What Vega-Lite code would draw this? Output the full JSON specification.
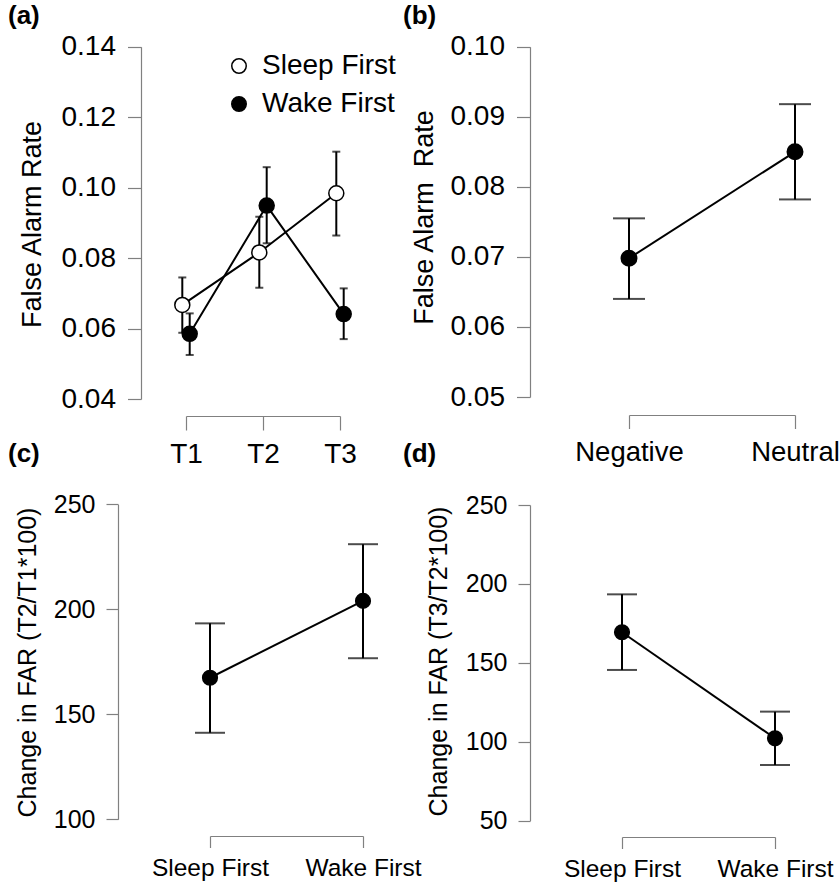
{
  "$schema": "https://vega.github.io/schema/vega-lite/v6.json",
  "padding": 0,
  "background": "white",
  "columns": 2,
  "spacing": 0,
  "bounds": "flush",
  "config": {
    "font": "Liberation Sans",
    "view": {"stroke": null},
    "axis": {
      "grid": false,
      "domainColor": "#808080",
      "tickColor": "#808080",
      "domainWidth": 1.2,
      "tickWidth": 1.2,
      "labelColor": "black",
      "titleColor": "black",
      "labelFont": "Liberation Sans",
      "titleFont": "Liberation Sans",
      "titleFontWeight": "normal",
      "labelOverlap": false,
      "labelFlush": false
    },
    "title": {"font": "Liberation Sans", "fontWeight": "bold", "fontSize": 26, "color": "black", "anchor": "start", "frame": "group", "baseline": "alphabetic"}
  },
  "concat": [
    {
      "width": 420,
      "height": 440,
      "title": {"text": "(a)", "dx": 8, "offset": -29},
      "data": {"values": [
        {"time": "T1", "group": "Sleep First", "far": 0.0667, "lo": 0.0588, "hi": 0.0745},
        {"time": "T2", "group": "Sleep First", "far": 0.0816, "lo": 0.0716, "hi": 0.0917},
        {"time": "T3", "group": "Sleep First", "far": 0.0984, "lo": 0.0864, "hi": 0.1102},
        {"time": "T1", "group": "Wake First", "far": 0.0585, "lo": 0.0525, "hi": 0.0643},
        {"time": "T2", "group": "Wake First", "far": 0.0949, "lo": 0.0842, "hi": 0.1058},
        {"time": "T3", "group": "Wake First", "far": 0.0641, "lo": 0.0570, "hi": 0.0714}
      ]},
      "layer": [
        {
          "mark": {"type": "rule", "color": "black", "strokeWidth": 2},
          "encoding": {
            "x": {"field": "time", "type": "nominal", "scale": {"type": "point", "range": [186, 340], "padding": 0},
                  "axis": {"title": null, "offset": -24, "labelFontSize": 28, "tickSize": 14, "labelPadding": 10, "labelAngle": 0}},
            "xOffset": {"field": "group", "type": "nominal", "scale": {"type": "point", "range": [-3.7, 3.7], "padding": 0}},
            "y": {"field": "lo", "type": "quantitative", "title": "False Alarm Rate",
                  "scale": {"domain": [0.04, 0.14], "range": [399, 46.7], "nice": false, "zero": false},
                  "axis": {"offset": -141, "values": [0.04, 0.06, 0.08, 0.1, 0.12, 0.14], "format": ".2f", "labelFontSize": 28, "tickSize": 13.5, "labelPadding": 12,
                           "titleFontSize": 27, "titleX": -101, "titleY": 224, "titleBaseline": "alphabetic", "titleAngle": -90, "titleAlign": "center"}},
            "y2": {"field": "hi"}
          }
        },
        {
          "mark": {"type": "tick", "color": "black", "size": 8, "thickness": 2},
          "encoding": {
            "x": {"field": "time", "type": "nominal", "scale": {"type": "point", "range": [186, 340], "padding": 0}},
            "xOffset": {"field": "group", "type": "nominal", "scale": {"type": "point", "range": [-3.7, 3.7], "padding": 0}},
            "y": {"field": "hi", "type": "quantitative", "title": "False Alarm Rate", "scale": {"domain": [0.04, 0.14], "range": [399, 46.7], "nice": false, "zero": false}}
          }
        },
        {
          "mark": {"type": "tick", "color": "black", "size": 8, "thickness": 2},
          "encoding": {
            "x": {"field": "time", "type": "nominal", "scale": {"type": "point", "range": [186, 340], "padding": 0}},
            "xOffset": {"field": "group", "type": "nominal", "scale": {"type": "point", "range": [-3.7, 3.7], "padding": 0}},
            "y": {"field": "lo", "type": "quantitative", "title": "False Alarm Rate", "scale": {"domain": [0.04, 0.14], "range": [399, 46.7], "nice": false, "zero": false}}
          }
        },
        {
          "mark": {"type": "line", "color": "black", "strokeWidth": 2},
          "encoding": {
            "x": {"field": "time", "type": "nominal", "scale": {"type": "point", "range": [186, 340], "padding": 0}},
            "xOffset": {"field": "group", "type": "nominal", "scale": {"type": "point", "range": [-3.7, 3.7], "padding": 0}},
            "y": {"field": "far", "type": "quantitative", "title": "False Alarm Rate", "scale": {"domain": [0.04, 0.14], "range": [399, 46.7], "nice": false, "zero": false}},
            "detail": {"field": "group", "type": "nominal"}
          }
        },
        {
          "mark": {"type": "point", "shape": "circle", "filled": true, "size": 225, "stroke": "black", "strokeWidth": 1.5, "opacity": 1},
          "encoding": {
            "x": {"field": "time", "type": "nominal", "scale": {"type": "point", "range": [186, 340], "padding": 0}},
            "xOffset": {"field": "group", "type": "nominal", "scale": {"type": "point", "range": [-3.7, 3.7], "padding": 0}},
            "y": {"field": "far", "type": "quantitative", "title": "False Alarm Rate", "scale": {"domain": [0.04, 0.14], "range": [399, 46.7], "nice": false, "zero": false}},
            "fill": {"field": "group", "type": "nominal", "scale": {"domain": ["Sleep First", "Wake First"], "range": ["white", "black"]},
                     "legend": {"orient": "none", "legendX": 225, "legendY": 52, "title": null, "padding": 0, "labelFontSize": 28, "labelFont": "Liberation Sans", "labelColor": "black",
                                "symbolType": "circle", "symbolSize": 210, "symbolStrokeColor": "black", "symbolStrokeWidth": 1.5, "labelOffset": 9, "rowPadding": 10}}
          }
        }
      ]
    },
    {
      "width": 420,
      "height": 440,
      "title": {"text": "(b)", "dx": -17, "offset": -29},
      "data": {"values": [
        {"valence": "Negative", "far": 0.0698, "lo": 0.0640, "hi": 0.0755},
        {"valence": "Neutral", "far": 0.0850, "lo": 0.0782, "hi": 0.0918}
      ]},
      "layer": [
        {
          "mark": {"type": "rule", "color": "black", "strokeWidth": 2},
          "encoding": {
            "x": {"field": "valence", "type": "nominal", "scale": {"type": "point", "range": [209, 375], "padding": 0},
                  "axis": {"title": null, "offset": -25, "labelFontSize": 27.5, "tickSize": 13.5, "labelPadding": 10, "labelAngle": 0}},
            "y": {"field": "lo", "type": "quantitative", "title": "False Alarm\u00a0 Rate",
                  "scale": {"domain": [0.05, 0.10], "range": [397, 46.7], "nice": false, "zero": false},
                  "axis": {"offset": -110, "values": [0.05, 0.06, 0.07, 0.08, 0.09, 0.10], "format": ".2f", "labelFontSize": 28, "tickSize": 13.5, "labelPadding": 12,
                           "titleFontSize": 27, "titleX": -98, "titleY": 217, "titleBaseline": "alphabetic", "titleAngle": -90, "titleAlign": "center"}},
            "y2": {"field": "hi"}
          }
        },
        {
          "mark": {"type": "tick", "color": "black", "size": 32, "thickness": 2},
          "encoding": {
            "x": {"field": "valence", "type": "nominal", "scale": {"type": "point", "range": [209, 375], "padding": 0}},
            "y": {"field": "hi", "type": "quantitative", "title": "False Alarm\u00a0 Rate", "scale": {"domain": [0.05, 0.10], "range": [397, 46.7], "nice": false, "zero": false}}
          }
        },
        {
          "mark": {"type": "tick", "color": "black", "size": 32, "thickness": 2},
          "encoding": {
            "x": {"field": "valence", "type": "nominal", "scale": {"type": "point", "range": [209, 375], "padding": 0}},
            "y": {"field": "lo", "type": "quantitative", "title": "False Alarm\u00a0 Rate", "scale": {"domain": [0.05, 0.10], "range": [397, 46.7], "nice": false, "zero": false}}
          }
        },
        {
          "mark": {"type": "line", "color": "black", "strokeWidth": 2},
          "encoding": {
            "x": {"field": "valence", "type": "nominal", "scale": {"type": "point", "range": [209, 375], "padding": 0}},
            "y": {"field": "far", "type": "quantitative", "title": "False Alarm\u00a0 Rate", "scale": {"domain": [0.05, 0.10], "range": [397, 46.7], "nice": false, "zero": false}}
          }
        },
        {
          "mark": {"type": "point", "shape": "circle", "filled": true, "size": 240, "fill": "black", "stroke": "black", "strokeWidth": 1.5, "opacity": 1},
          "encoding": {
            "x": {"field": "valence", "type": "nominal", "scale": {"type": "point", "range": [209, 375], "padding": 0}},
            "y": {"field": "far", "type": "quantitative", "title": "False Alarm\u00a0 Rate", "scale": {"domain": [0.05, 0.10], "range": [397, 46.7], "nice": false, "zero": false}}
          }
        }
      ]
    },
    {
      "width": 420,
      "height": 443,
      "title": {"text": "(c)", "dx": 8, "offset": -27},
      "data": {"values": [
        {"order": "Sleep First", "change": 167.4, "lo": 141.2, "hi": 193.3},
        {"order": "Wake First", "change": 204.0, "lo": 176.7, "hi": 231.0}
      ]},
      "layer": [
        {
          "mark": {"type": "rule", "color": "black", "strokeWidth": 2},
          "encoding": {
            "x": {"field": "order", "type": "nominal", "scale": {"type": "point", "range": [210, 363], "padding": 0},
                  "axis": {"title": null, "offset": -47, "labelFontSize": 24.5, "tickSize": 11.5, "labelPadding": 9, "labelAngle": 0}},
            "y": {"field": "lo", "type": "quantitative", "title": "Change in FAR (T2/T1*100)",
                  "scale": {"domain": [100, 250], "range": [379.3, 64.3], "nice": false, "zero": false},
                  "axis": {"offset": -118, "values": [100, 150, 200, 250], "labelFontSize": 25, "tickSize": 12, "labelPadding": 11,
                           "titleFontSize": 25, "titleX": -83, "titleY": 222, "titleBaseline": "alphabetic", "titleAngle": -90, "titleAlign": "center"}},
            "y2": {"field": "hi"}
          }
        },
        {
          "mark": {"type": "tick", "color": "black", "size": 30, "thickness": 2},
          "encoding": {
            "x": {"field": "order", "type": "nominal", "scale": {"type": "point", "range": [210, 363], "padding": 0}},
            "y": {"field": "hi", "type": "quantitative", "title": "Change in FAR (T2/T1*100)", "scale": {"domain": [100, 250], "range": [379.3, 64.3], "nice": false, "zero": false}}
          }
        },
        {
          "mark": {"type": "tick", "color": "black", "size": 30, "thickness": 2},
          "encoding": {
            "x": {"field": "order", "type": "nominal", "scale": {"type": "point", "range": [210, 363], "padding": 0}},
            "y": {"field": "lo", "type": "quantitative", "title": "Change in FAR (T2/T1*100)", "scale": {"domain": [100, 250], "range": [379.3, 64.3], "nice": false, "zero": false}}
          }
        },
        {
          "mark": {"type": "line", "color": "black", "strokeWidth": 2},
          "encoding": {
            "x": {"field": "order", "type": "nominal", "scale": {"type": "point", "range": [210, 363], "padding": 0}},
            "y": {"field": "change", "type": "quantitative", "title": "Change in FAR (T2/T1*100)", "scale": {"domain": [100, 250], "range": [379.3, 64.3], "nice": false, "zero": false}}
          }
        },
        {
          "mark": {"type": "point", "shape": "circle", "filled": true, "size": 215, "fill": "black", "stroke": "black", "strokeWidth": 1.5, "opacity": 1},
          "encoding": {
            "x": {"field": "order", "type": "nominal", "scale": {"type": "point", "range": [210, 363], "padding": 0}},
            "y": {"field": "change", "type": "quantitative", "title": "Change in FAR (T2/T1*100)", "scale": {"domain": [100, 250], "range": [379.3, 64.3], "nice": false, "zero": false}}
          }
        }
      ]
    },
    {
      "width": 420,
      "height": 443,
      "title": {"text": "(d)", "dx": -17, "offset": -27},
      "data": {"values": [
        {"order": "Sleep First", "change": 169.4, "lo": 145.5, "hi": 193.4},
        {"order": "Wake First", "change": 102.2, "lo": 85.3, "hi": 119.1}
      ]},
      "layer": [
        {
          "mark": {"type": "rule", "color": "black", "strokeWidth": 2},
          "encoding": {
            "x": {"field": "order", "type": "nominal", "scale": {"type": "point", "range": [202, 355], "padding": 0},
                  "axis": {"title": null, "offset": -46, "labelFontSize": 24.5, "tickSize": 11.5, "labelPadding": 9, "labelAngle": 0}},
            "y": {"field": "lo", "type": "quantitative", "title": "Change in FAR (T3/T2*100)",
                  "scale": {"domain": [50, 250], "range": [380.7, 65], "nice": false, "zero": false},
                  "axis": {"offset": -110, "values": [50, 100, 150, 200, 250], "labelFontSize": 25, "tickSize": 12, "labelPadding": 11,
                           "titleFontSize": 25, "titleX": -84, "titleY": 221, "titleBaseline": "alphabetic", "titleAngle": -90, "titleAlign": "center"}},
            "y2": {"field": "hi"}
          }
        },
        {
          "mark": {"type": "tick", "color": "black", "size": 30, "thickness": 2},
          "encoding": {
            "x": {"field": "order", "type": "nominal", "scale": {"type": "point", "range": [202, 355], "padding": 0}},
            "y": {"field": "hi", "type": "quantitative", "title": "Change in FAR (T3/T2*100)", "scale": {"domain": [50, 250], "range": [380.7, 65], "nice": false, "zero": false}}
          }
        },
        {
          "mark": {"type": "tick", "color": "black", "size": 30, "thickness": 2},
          "encoding": {
            "x": {"field": "order", "type": "nominal", "scale": {"type": "point", "range": [202, 355], "padding": 0}},
            "y": {"field": "lo", "type": "quantitative", "title": "Change in FAR (T3/T2*100)", "scale": {"domain": [50, 250], "range": [380.7, 65], "nice": false, "zero": false}}
          }
        },
        {
          "mark": {"type": "line", "color": "black", "strokeWidth": 2},
          "encoding": {
            "x": {"field": "order", "type": "nominal", "scale": {"type": "point", "range": [202, 355], "padding": 0}},
            "y": {"field": "change", "type": "quantitative", "title": "Change in FAR (T3/T2*100)", "scale": {"domain": [50, 250], "range": [380.7, 65], "nice": false, "zero": false}}
          }
        },
        {
          "mark": {"type": "point", "shape": "circle", "filled": true, "size": 215, "fill": "black", "stroke": "black", "strokeWidth": 1.5, "opacity": 1},
          "encoding": {
            "x": {"field": "order", "type": "nominal", "scale": {"type": "point", "range": [202, 355], "padding": 0}},
            "y": {"field": "change", "type": "quantitative", "title": "Change in FAR (T3/T2*100)", "scale": {"domain": [50, 250], "range": [380.7, 65], "nice": false, "zero": false}}
          }
        }
      ]
    }
  ]
}
